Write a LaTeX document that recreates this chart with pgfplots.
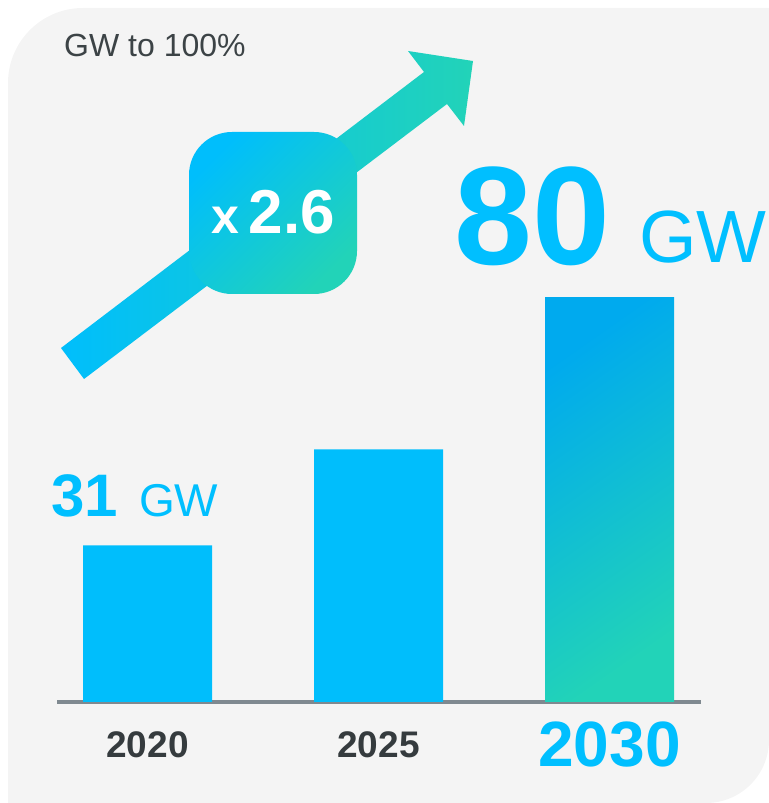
\documentclass[border=0pt]{standalone}
\usepackage{fontspec}
\setmainfont{Liberation Sans}
\usepackage{pgfplots}
\pgfplotsset{compat=1.18}
\definecolor{bg}{HTML}{F4F4F4}
\definecolor{darktxt}{HTML}{353B3E}
\definecolor{greytxt}{HTML}{3C4346}
\definecolor{cyantxt}{HTML}{00BFFF}
\definecolor{barcyan}{HTML}{00BEFC}
\definecolor{bartop}{HTML}{00AAEE}
\definecolor{teal}{HTML}{22D3B8}
\definecolor{axisgray}{HTML}{7F8990}
\begin{document}
\begin{tikzpicture}[x=1bp,y=1bp]
\useasboundingbox (0,0) rectangle (769,803);
% background
\fill[bg] (8,0) -- (8,720) arc[start angle=180,end angle=90,radius=75] -- (769,795) -- (769,63) arc[start angle=0,end angle=-90,radius=63] -- cycle;
% arrow band
\shade[left color=barcyan, right color=teal, shading angle=90]
  (61,455) -- (84,424) -- (447,699) -- (464,677) -- (473,742) -- (408,752) -- (424,731) -- cycle;
% rounded box
\shade[top color=barcyan, bottom color=teal, shading angle=45, rounded corners=43bp]
  (189,509) rectangle (357,671);
\node[anchor=base, inner sep=0pt, text=white] at (273,569)
  {\fontsize{50bp}{52bp}\selectfont\bfseries x\hspace{10bp}\fontsize{62bp}{64bp}\selectfont 2.6};
% title
\node[anchor=base west, inner sep=0pt, text=greytxt] at (64,746) {\fontsize{32bp}{34bp}\selectfont GW to 100\%};
\coordinate (axsw) at (57,101);
\begin{axis}[
  at={(axsw)}, anchor=south west,
  scale only axis, width=644bp, height=404bp,
  xmin=-0.392, xmax=2.396, ymin=0, ymax=80,
  clip=false,
  ybar, bar width=129bp, bar shift=0pt,
  axis y line=none,
  axis x line*=bottom,
  x axis line style={line width=4bp, color=axisgray},
  major tick length=0pt,
  xtick={0,1}, xticklabels={2020,2025},
  xticklabel style={anchor=base, yshift=-55bp, text=darktxt, font=\fontsize{37bp}{40bp}\selectfont\bfseries},
  extra x ticks={2}, extra x tick labels={2030},
  extra x tick style={xticklabel style={yshift=-9bp, text=cyantxt, font=\fontsize{64bp}{66bp}\selectfont\bfseries}},
]
\addplot[draw=none, fill=barcyan] coordinates {(0,31) (1,50)};
\addplot[draw=none, top color=bartop, bottom color=teal, shading angle=35] coordinates {(2,80)};
\end{axis}
% value labels
\node[anchor=base west, inner sep=0pt, text=cyantxt] at (51,286) {\fontsize{60bp}{62bp}\selectfont\bfseries 31};
\node[anchor=base west, inner sep=0pt, text=cyantxt] at (139,286) {\fontsize{46bp}{48bp}\selectfont GW};
\node[anchor=base west, inner sep=0pt, text=cyantxt] at (454,538) {\fontsize{140bp}{144bp}\selectfont\bfseries 80};
\node[anchor=base west, inner sep=0pt, text=cyantxt] at (639,540) {\fontsize{74bp}{76bp}\selectfont GW};
\end{tikzpicture}
\end{document}
